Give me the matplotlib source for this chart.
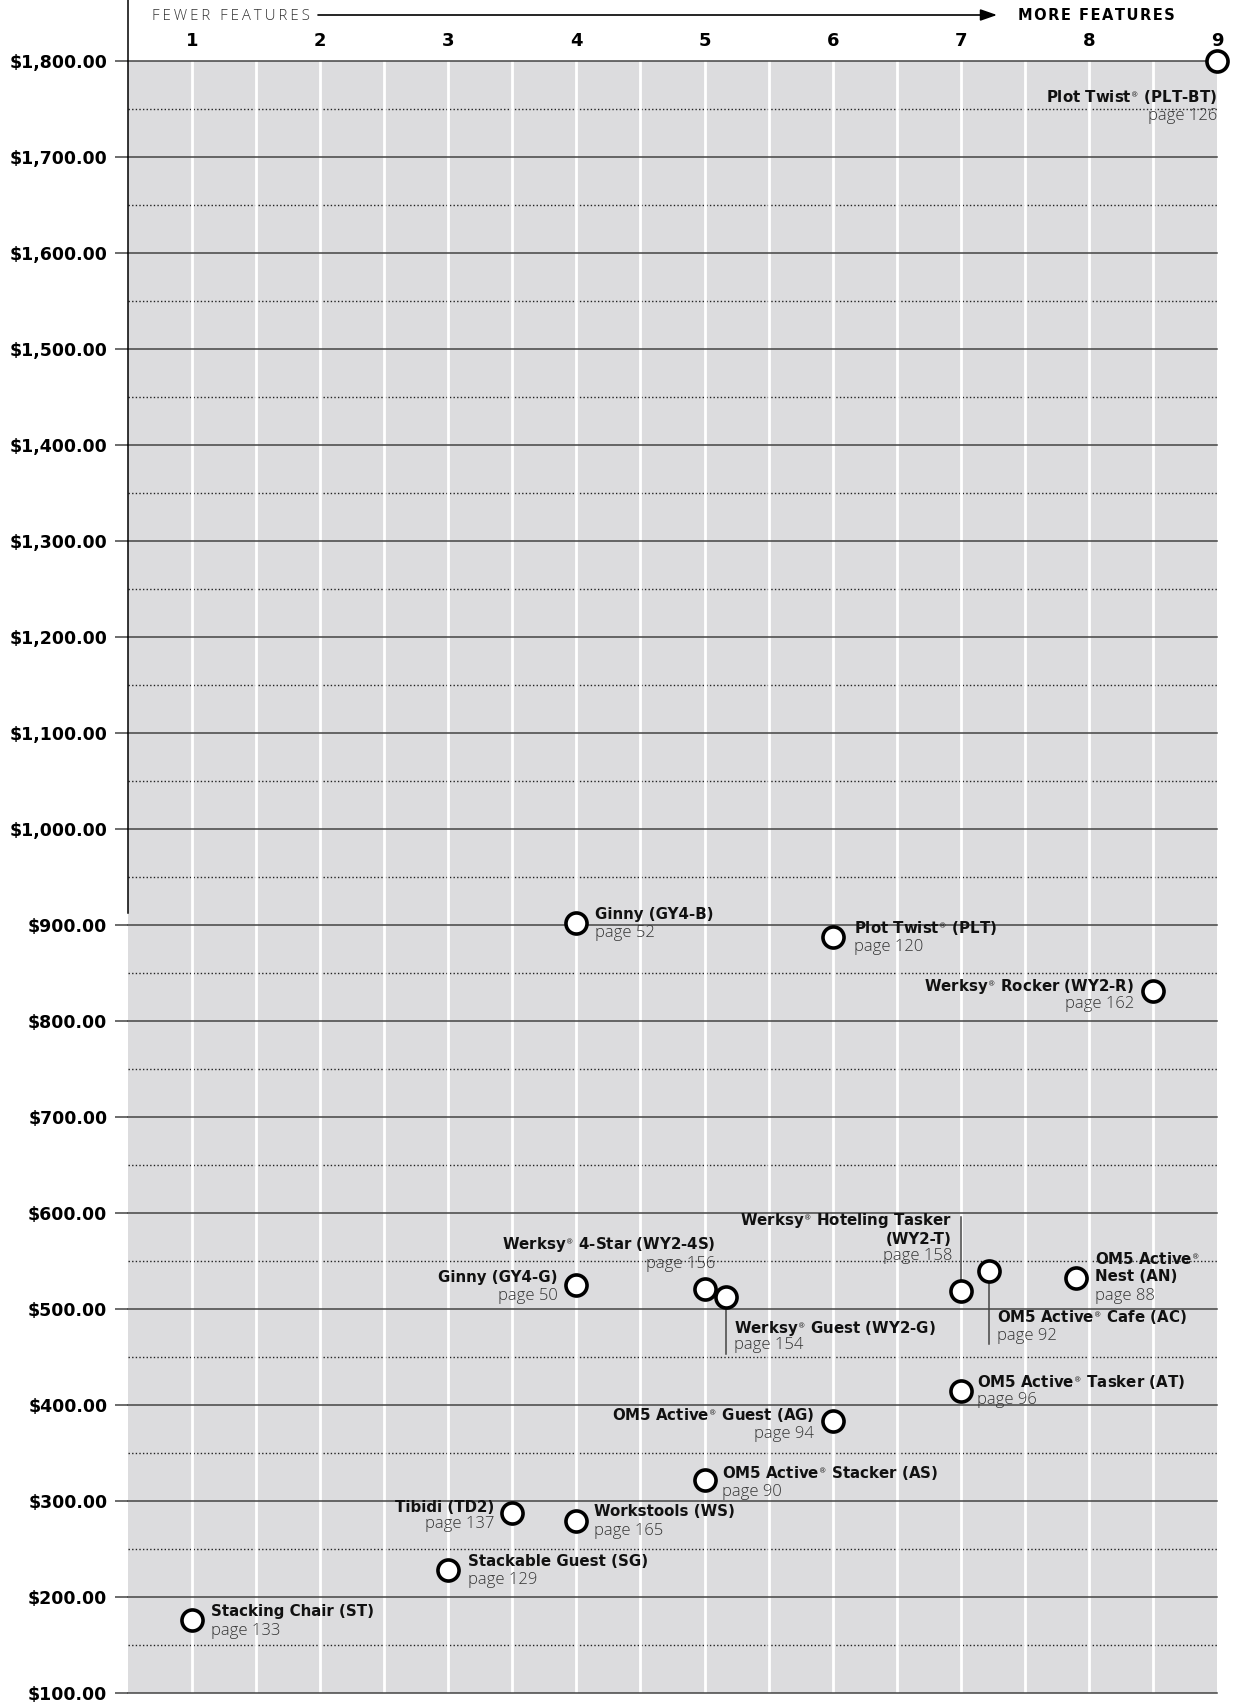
import matplotlib.pyplot as plt

plt.rcParams['font.family'] = ['DejaVu Sans']
plt.rcParams['mathtext.fontset'] = 'dejavusans'
LIGHT = ['Open Sans', 'DejaVu Sans']

# chairs: features score (x) vs list price (y)
names = ["Plot Twist® (PLT-BT)", "Ginny (GY4-B)", "Plot Twist® (PLT)", "Werksy® Rocker (WY2-R)",
         "Ginny (GY4-G)", "Werksy® 4-Star (WY2-4S)", "Werksy® Guest (WY2-G)",
         "Werksy® Hoteling Tasker\n(WY2-T)", "OM5 Active® Cafe (AC)", "OM5 Active®\nNest (AN)",
         "OM5 Active® Tasker (AT)", "OM5 Active® Guest (AG)", "OM5 Active® Stacker (AS)",
         "Tibidi (TD2)", "Workstools (WS)", "Stackable Guest (SG)", "Stacking Chair (ST)"]
pages = [126, 52, 120, 162, 50, 156, 154, 158, 92, 88, 96, 94, 90, 137, 165, 129, 133]
features = [9, 4, 6, 8.5, 4, 5, 5.17, 7, 7.22, 7.9, 7, 6, 5, 3.5, 4, 3, 1]
prices = [1800, 902, 887, 831, 525, 521, 513, 519, 540, 532, 415, 383, 322, 288, 279, 228, 176]

feature_ticks = [1, 2, 3, 4, 5, 6, 7, 8, 9]
price_ticks = list(range(100, 1900, 100))

# label placement: ha, dx, name dy, page dy (points), leader line end (price) or None
layout = [
    ("right", 0, -25.8, -39.9, None),
    ("left", 13.3, 6.3, -7.0, None),
    ("left", 15.6, 7.0, -7.0, None),
    ("right", -13.3, 3.1, -9.4, None),
    ("right", -13.3, 5.5, -7.8, None),
    ("right", 7.8, 32.1, 18.0, None),
    ("left", 5.5, -22.7, -35.2, 453),
    ("right", -6.3, 44.6, 25.0, 596),
    ("left", 5.5, -33.6, -46.9, 464),
    ("left", 13.3, 7.9, -12.5, None),
    ("left", 11.7, 6.3, -7.0, None),
    ("right", -13.3, 4.7, -9.4, None),
    ("left", 12.5, 4.7, -8.6, None),
    ("right", -13.3, 3.9, -8.6, None),
    ("left", 12.5, 7.0, -7.0, None),
    ("left", 14.1, 6.3, -7.0, None),
    ("left", 13.3, 6.3, -7.8, None),
]

W, H = 1236, 1703
fig = plt.figure(figsize=(W / 100, H / 100), dpi=100)
ax = fig.add_axes([128 / W, 1 - 1693 / H, (1217 - 128) / W, (1693 - 61) / H])
ax.set_facecolor('#dcdcde')
ax.set_xlim(0.5, 9)
ax.set_ylim(100, 1800)
for s in ax.spines.values():
    s.set_visible(False)

# dotted half lines, white feature columns, solid price lines
for p in price_ticks[:-1]:
    ax.axhline(p + 50, color='#222222', lw=1, ls=(0, (1, 1.6)), zorder=1)
for i in range(2, 18):
    ax.axvline(i / 2, color='white', lw=2, zorder=2)
for p in price_ticks:
    ax.axhline(p, color='#444444', lw=1.1, zorder=3, clip_on=False)
ax.plot([0.5, 0.5], [912, 1900], color='black', lw=1.1, clip_on=False, zorder=3)

ax.set_yticks(price_ticks)
ax.set_yticklabels(['${:,.2f}'.format(p) for p in price_ticks])
ax.tick_params(axis='y', length=9.4, width=1.1, color='#444444', pad=5.5,
               labelsize=12.5, labelcolor='black')
for t in ax.get_yticklabels():
    t.set_fontweight('bold')

ax.xaxis.tick_top()
ax.set_xticks(feature_ticks)
ax.set_xticklabels([str(f) for f in feature_ticks])
ax.tick_params(axis='x', length=0, pad=8, labelsize=13)
for t in ax.get_xticklabels():
    t.set_fontweight('bold')

# header arrow (letter-spaced captions)
fewer = '\u2009'.join("FEWER FEATURES")
more = '\u200a'.join("MORE FEATURES")
fig.text(152 / W, 1 - 16 / H, fewer, fontsize=10.8, family=LIGHT,
         fontweight='light', color='#333333', ha='left', va='center')
fig.text(1018 / W, 1 - 16 / H, more, fontsize=10.5, fontweight='bold',
         color='black', ha='left', va='center')
ax.annotate("", xy=(997 / W, 1 - 15 / H), xytext=(318 / W, 1 - 15 / H),
            xycoords='figure fraction', textcoords='figure fraction',
            arrowprops=dict(arrowstyle='-|>,head_length=1.0,head_width=0.35',
                            color='black', lw=1.2, shrinkA=0, shrinkB=0))

# leader lines
for x, y, lay in zip(features, prices, layout):
    if lay[4] is not None:
        ax.plot([x, x], [y, lay[4]], color='#444444', lw=1.1, zorder=4)

ax.scatter(features, prices, s=230, facecolor='white', edgecolor='black',
           linewidth=2.6, zorder=5, clip_on=False)

for x, y, name, page, lay in zip(features, prices, names, pages, layout):
    ha, dx, ndy, pdy, _ = lay
    ax.annotate(name.replace('®', r'$^{_\circledR}$'), (x, y), xytext=(dx, ndy),
                textcoords='offset points', ha=ha, va='center', fontsize=10.8,
                fontweight='bold', color='#111111', linespacing=1.15, zorder=6)
    ax.annotate("page %d" % page, (x, y), xytext=(dx, pdy),
                textcoords='offset points', ha=ha, va='center', fontsize=12,
                family=LIGHT, fontweight='light', color='#333333', zorder=6)

fig.savefig('out.png', dpi=100)
